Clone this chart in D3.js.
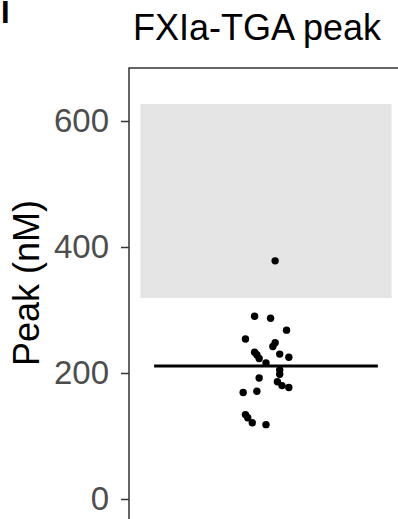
<!DOCTYPE html>
<html>
<head>
<meta charset="utf-8">
<script src="https://cdn.jsdelivr.net/npm/d3@7"></script>
<style>
  body { margin: 0; background: #fff; }
  svg { display: block; font-family: "Liberation Sans", Arial, sans-serif; }
</style>
</head>
<body>
<svg id="chart" width="398" height="519"></svg>
<script>
// peak values (nM)
const peakValues = [290, 287, 268, 254, 248, 242, 233, 229, 223, 230, 225, 216, 205, 198,
  192, 186, 180, 177, 169, 171, 134, 129, 121, 118, 378];
// horizontal jitter offsets (x units, category at 1)
const jitter = [-0.05, 0.02, 0.09, -0.09, 0.04, 0.03, -0.05, -0.04, -0.03, 0.06, 0.1, 0.0,
  0.06, 0.06, -0.03, 0.05, 0.07, 0.1, -0.1, -0.04, -0.09, -0.08, -0.06, 0.0, 0.04];
const meanValue = 211;
const refRange = [319, 627];
const yTicks = [0, 200, 400, 600];
const title = "FXIa-TGA peak";
const yLabel = "Peak (nM)";

const svg = d3.select("#chart");
const panelLeft = 129, panelTop = 68, panelRight = 403, panelBottom = 560;

const x = d3.scaleLinear().domain([0.4, 1.6]).range([panelLeft, panelRight]);
const y = d3.scaleLinear().domain([0, 600]).range([499, 121]);

// panel letter fragment at top-left
svg.append("text")
  .attr("x", 1).attr("y", 23)
  .attr("font-size", 31).attr("font-weight", "bold")
  .text("I");

// reference range band
svg.append("rect")
  .attr("x", x(0.45)).attr("width", x(1.55) - x(0.45))
  .attr("y", y(refRange[1])).attr("height", y(refRange[0]) - y(refRange[1]))
  .attr("fill", "#e5e5e5");

// panel border (top and left visible)
svg.append("rect")
  .attr("x", panelLeft).attr("y", panelTop)
  .attr("width", panelRight - panelLeft).attr("height", panelBottom - panelTop)
  .attr("fill", "none").attr("stroke", "#333").attr("stroke-width", 1.5);

const yAxis = d3.axisLeft(y).tickValues(yTicks).tickSize(8).tickPadding(12);
const gy = svg.append("g").attr("transform", `translate(${panelLeft},0)`).call(yAxis);
gy.select(".domain").remove();
gy.selectAll(".tick line").attr("stroke", "#333").attr("stroke-width", 1.5);
gy.selectAll(".tick text")
  .attr("fill", "#4d4d4d")
  .attr("font-size", 33)
  .attr("font-family", "Liberation Sans, Arial, sans-serif");

// points
svg.append("g").selectAll("circle")
  .data(peakValues)
  .enter()
  .append("circle")
  .attr("cx", (d, i) => x(1 + jitter[i]))
  .attr("cy", d => y(d))
  .attr("r", 3.7)
  .attr("fill", "#000");

// mean line
svg.append("line")
  .attr("x1", x(0.51)).attr("x2", x(1.49))
  .attr("y1", y(meanValue)).attr("y2", y(meanValue))
  .attr("stroke", "#000").attr("stroke-width", 3);

svg.append("text")
  .attr("x", 257).attr("y", 40)
  .attr("text-anchor", "middle")
  .attr("font-size", 36)
  .text(title);

svg.append("text")
  .attr("transform", `translate(39,283) rotate(-90)`)
  .attr("text-anchor", "middle")
  .attr("font-size", 36)
  .text(yLabel);
</script>
</body>
</html>
